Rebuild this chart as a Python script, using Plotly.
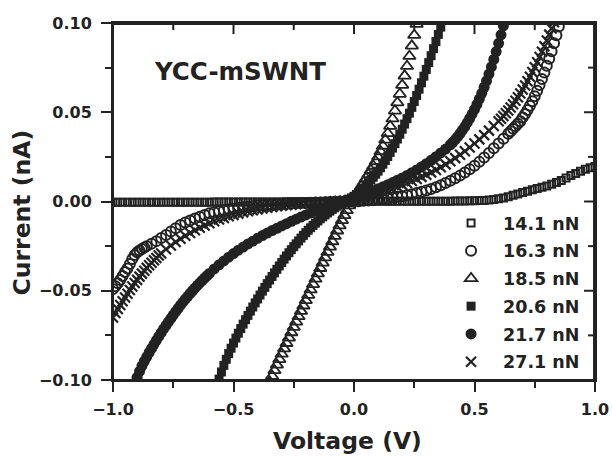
import plotly.graph_objects as go

# ---------------- data ----------------
series_names = ["14.1 nN", "16.3 nN", "18.5 nN", "20.6 nN", "21.7 nN", "27.1 nN"]

v_141 = [-1.00, -0.98, -0.96, -0.94, -0.92, -0.90, -0.88, -0.86, -0.84, -0.82, -0.80, -0.78, -0.76, -0.74, -0.72,
         -0.70, -0.68, -0.66, -0.64, -0.62, -0.60, -0.58, -0.56, -0.54, -0.52, -0.50, -0.48, -0.46, -0.44, -0.42,
         -0.40, -0.38, -0.36, -0.34, -0.32, -0.30, -0.28, -0.26, -0.24, -0.22, -0.20, -0.18, -0.16, -0.14, -0.12,
         -0.10, -0.08, -0.06, -0.04, -0.02, 0.00, 0.02, 0.04, 0.06, 0.08, 0.10, 0.12, 0.14, 0.16, 0.18, 0.20,
         0.22, 0.24, 0.26, 0.28, 0.30, 0.32, 0.34, 0.36, 0.38, 0.40, 0.42, 0.44, 0.46, 0.48, 0.50, 0.52, 0.54,
         0.56, 0.58, 0.60, 0.62, 0.64, 0.66, 0.68, 0.70, 0.72, 0.74, 0.76, 0.78, 0.80, 0.82, 0.84, 0.86, 0.88,
         0.90, 0.92, 0.94, 0.96, 0.98, 1.00]
i_141 = [-0.0004, -0.0004, -0.0004, -0.0004, -0.0004, -0.0004, -0.0004, -0.0004, -0.0004, -0.0004, -0.0004,
         -0.0004, -0.0004, -0.0004, -0.0004, -0.0004, -0.0004, -0.0004, -0.0004, -0.0004, -0.0004,
         -0.0003, -0.0003, -0.0003, -0.0003, -0.0003, -0.0003, -0.0003, -0.0003, -0.0003, -0.0003, -0.0003,
         -0.0003, -0.0003, -0.0003, -0.0003,
         -0.0002, -0.0002, -0.0002, -0.0002, -0.0002, -0.0002, -0.0002, -0.0002, -0.0002, -0.0002,
         -0.0001, -0.0001, -0.0001, -0.0001, 0.0000,
         0.0000, 0.0000, 0.0000, 0.0001, 0.0001, 0.0001, 0.0001, 0.0001, 0.0001, 0.0001, 0.0001, 0.0001,
         0.0001, 0.0001, 0.0002, 0.0002, 0.0002, 0.0002, 0.0002, 0.0002, 0.0003, 0.0003, 0.0003, 0.0004,
         0.0004, 0.0005, 0.0006, 0.0008, 0.0011, 0.0015, 0.0020, 0.0027, 0.0035, 0.0042, 0.0050, 0.0058,
         0.0066, 0.0073, 0.0080, 0.0087, 0.0096, 0.0106, 0.0118, 0.0132, 0.0145, 0.0157, 0.0169, 0.0180,
         0.0189, 0.0196]

v_163 = [-1.00, -0.99, -0.98, -0.97, -0.96, -0.95, -0.94, -0.93, -0.92, -0.91, -0.90, -0.89, -0.88, -0.87, -0.86,
         -0.84, -0.82, -0.80, -0.78, -0.76, -0.74, -0.72, -0.70, -0.68, -0.66, -0.64, -0.62, -0.60, -0.58, -0.56,
         -0.54, -0.52, -0.50, -0.48, -0.46, -0.44, -0.42, -0.40, -0.38, -0.36, -0.34, -0.32, -0.30, -0.28, -0.26,
         -0.24, -0.22, -0.20, -0.18, -0.16, -0.14, -0.12, -0.10, -0.08, -0.06, -0.04, -0.02, 0.00, 0.02, 0.04,
         0.06, 0.08, 0.10, 0.12, 0.14, 0.16, 0.18, 0.20, 0.22, 0.24, 0.26, 0.28, 0.30, 0.32, 0.34, 0.36, 0.38,
         0.40, 0.42, 0.44, 0.46, 0.48, 0.50, 0.52, 0.54, 0.56, 0.58, 0.60, 0.62, 0.64, 0.65, 0.66, 0.67, 0.68,
         0.69, 0.70, 0.71, 0.72, 0.73, 0.74, 0.75, 0.76, 0.77, 0.78, 0.79, 0.80, 0.81, 0.82, 0.83, 0.84, 0.85,
         0.86]
i_163 = [-0.0490, -0.0475, -0.0458, -0.0440, -0.0418, -0.0395, -0.0375, -0.0350, -0.0322, -0.0300, -0.0285,
         -0.0275, -0.0266, -0.0258, -0.0250, -0.0236, -0.0222, -0.0205, -0.0188, -0.0168, -0.0150, -0.0132,
         -0.0118, -0.0106, -0.0095, -0.0085, -0.0075, -0.0066, -0.0060, -0.0054, -0.0049, -0.0044, -0.0040,
         -0.0036, -0.0032, -0.0029, -0.0026, -0.0023, -0.0021, -0.0019, -0.0017, -0.0015, -0.0013, -0.0012,
         -0.0011, -0.0010, -0.0009, -0.0008, -0.0007, -0.0006, -0.0005, -0.0004, -0.0003, -0.0002, -0.0001,
         -0.0001, 0.0000, 0.0000, 0.0002, 0.0004, 0.0006, 0.0009, 0.0012, 0.0015, 0.0018, 0.0022, 0.0026,
         0.0030, 0.0035, 0.0041, 0.0047, 0.0054, 0.0062, 0.0070, 0.0080, 0.0091, 0.0103, 0.0116, 0.0130,
         0.0145, 0.0162, 0.0180, 0.0200, 0.0222, 0.0246, 0.0272, 0.0298, 0.0325, 0.0352, 0.0380, 0.0394,
         0.0408, 0.0422, 0.0436, 0.0450, 0.0470, 0.0490, 0.0512, 0.0536, 0.0562, 0.0590, 0.0620, 0.0652,
         0.0686, 0.0722, 0.0760, 0.0800, 0.0842, 0.0886, 0.0932, 0.0980, 0.1030]

v_185 = [-0.35, -0.34, -0.33, -0.32, -0.31, -0.30, -0.29, -0.28, -0.27, -0.26, -0.25, -0.24, -0.23, -0.22, -0.21,
         -0.20, -0.19, -0.18, -0.17, -0.16, -0.15, -0.14, -0.13, -0.12, -0.11, -0.10, -0.09, -0.08, -0.07, -0.06,
         -0.05, -0.04, -0.03, -0.02, -0.01, 0.00, 0.01, 0.02, 0.03, 0.04, 0.05, 0.06, 0.07, 0.08, 0.09, 0.10,
         0.11, 0.12, 0.13, 0.14, 0.15, 0.16, 0.17, 0.18, 0.19, 0.20, 0.21, 0.22, 0.23, 0.24, 0.25, 0.26, 0.27]
i_185 = [-0.1010, -0.0978, -0.0946, -0.0915, -0.0884, -0.0854, -0.0824, -0.0794, -0.0764, -0.0734, -0.0704,
         -0.0674, -0.0644, -0.0614, -0.0584, -0.0554, -0.0524, -0.0494, -0.0464, -0.0434, -0.0404, -0.0374,
         -0.0344, -0.0314, -0.0284, -0.0254, -0.0224, -0.0194, -0.0164, -0.0135, -0.0106, -0.0078, -0.0050,
         -0.0023, -0.0001, 0.0020, 0.0042, 0.0064, 0.0086, 0.0108, 0.0130, 0.0152, 0.0175, 0.0199, 0.0224,
         0.0251, 0.0280, 0.0311, 0.0345, 0.0382, 0.0422, 0.0464, 0.0508, 0.0554, 0.0602, 0.0652, 0.0704,
         0.0758, 0.0814, 0.0872, 0.0932, 0.0994, 0.1058]

v_206 = [-0.57, -0.56, -0.55, -0.54, -0.53, -0.52, -0.51, -0.50, -0.49, -0.48, -0.47, -0.46, -0.45, -0.44, -0.43,
         -0.42, -0.41, -0.40, -0.39, -0.38, -0.37, -0.36, -0.35, -0.34, -0.33, -0.32, -0.31, -0.30, -0.29, -0.28,
         -0.27, -0.26, -0.25, -0.24, -0.23, -0.22, -0.21, -0.20, -0.19, -0.18, -0.17, -0.16, -0.15, -0.14, -0.13,
         -0.12, -0.11, -0.10, -0.09, -0.08, -0.07, -0.06, -0.05, -0.04, -0.03, -0.02, -0.01, 0.00, 0.01, 0.02,
         0.03, 0.04, 0.05, 0.06, 0.07, 0.08, 0.09, 0.10, 0.11, 0.12, 0.13, 0.14, 0.15, 0.16, 0.17, 0.18, 0.19,
         0.20, 0.21, 0.22, 0.23, 0.24, 0.25, 0.26, 0.27, 0.28, 0.29, 0.30, 0.31, 0.32, 0.33, 0.34, 0.35, 0.36,
         0.37, 0.38]
i_206 = [-0.1040, -0.0995, -0.0955, -0.0918, -0.0884, -0.0852, -0.0822, -0.0793, -0.0765, -0.0738, -0.0712,
         -0.0687, -0.0662, -0.0638, -0.0614, -0.0591, -0.0568, -0.0546, -0.0524, -0.0502, -0.0481, -0.0460,
         -0.0440, -0.0420, -0.0400, -0.0380, -0.0361, -0.0342, -0.0323, -0.0305, -0.0287, -0.0270, -0.0253,
         -0.0237, -0.0221, -0.0205, -0.0190, -0.0175, -0.0161, -0.0147, -0.0134, -0.0121, -0.0109, -0.0097,
         -0.0086, -0.0075, -0.0064, -0.0054, -0.0044, -0.0035, -0.0026, -0.0018, -0.0010, -0.0003, 0.0004,
         0.0012, 0.0020, 0.0029, 0.0039, 0.0050, 0.0062, 0.0075, 0.0089, 0.0104, 0.0120, 0.0136, 0.0153,
         0.0170, 0.0189, 0.0209, 0.0230, 0.0252, 0.0275, 0.0299, 0.0324, 0.0350, 0.0377, 0.0405, 0.0434,
         0.0464, 0.0495, 0.0527, 0.0560, 0.0594, 0.0629, 0.0665, 0.0702, 0.0740, 0.0778, 0.0817, 0.0856,
         0.0896, 0.0936, 0.0977, 0.1018, 0.1060]

v_217 = [-0.91, -0.90, -0.89, -0.88, -0.87, -0.86, -0.85, -0.84, -0.83, -0.82, -0.81, -0.80, -0.79, -0.78, -0.77,
         -0.76, -0.75, -0.74, -0.73, -0.72, -0.71, -0.70, -0.69, -0.68, -0.67, -0.66, -0.65, -0.64, -0.63, -0.62,
         -0.61, -0.60, -0.58, -0.56, -0.54, -0.52, -0.50, -0.48, -0.46, -0.44, -0.42, -0.40, -0.38, -0.36, -0.34,
         -0.32, -0.30, -0.28, -0.26, -0.24, -0.22, -0.20, -0.18, -0.16, -0.14, -0.12, -0.10, -0.08, -0.06, -0.04,
         -0.02, 0.00, 0.02, 0.04, 0.06, 0.08, 0.10, 0.12, 0.14, 0.16, 0.18, 0.20, 0.22, 0.24, 0.26, 0.28, 0.30,
         0.32, 0.34, 0.36, 0.38, 0.40, 0.41, 0.42, 0.43, 0.44, 0.45, 0.46, 0.47, 0.48, 0.49, 0.50, 0.51, 0.52,
         0.53, 0.54, 0.55, 0.56, 0.57, 0.58, 0.59, 0.60, 0.61, 0.62, 0.63]
i_217 = [-0.1025, -0.0985, -0.0952, -0.0922, -0.0895, -0.0870, -0.0846, -0.0823, -0.0800, -0.0778, -0.0756,
         -0.0735, -0.0714, -0.0694, -0.0674, -0.0655, -0.0636, -0.0617, -0.0599, -0.0581, -0.0564, -0.0547,
         -0.0531, -0.0515, -0.0500, -0.0485, -0.0470, -0.0456, -0.0442, -0.0429, -0.0416, -0.0403, -0.0378,
         -0.0355, -0.0333, -0.0312, -0.0292, -0.0273, -0.0255, -0.0238, -0.0222, -0.0206, -0.0191, -0.0177,
         -0.0163, -0.0150, -0.0137, -0.0124, -0.0111, -0.0099, -0.0087, -0.0075, -0.0064, -0.0053, -0.0043,
         -0.0033, -0.0024, -0.0015, -0.0006, 0.0003, 0.0012, 0.0021, 0.0030, 0.0040, 0.0050, 0.0060, 0.0071,
         0.0082, 0.0094, 0.0106, 0.0119, 0.0132, 0.0146, 0.0161, 0.0177, 0.0194, 0.0212, 0.0231, 0.0251,
         0.0272, 0.0294, 0.0318, 0.0332, 0.0347, 0.0363, 0.0381, 0.0400, 0.0420, 0.0442, 0.0465, 0.0490,
         0.0516, 0.0544, 0.0574, 0.0606, 0.0640, 0.0676, 0.0714, 0.0754, 0.0796, 0.0840, 0.0886, 0.0934,
         0.0984, 0.1036]

v_271 = [-1.00, -0.99, -0.98, -0.97, -0.96, -0.95, -0.94, -0.93, -0.92, -0.91, -0.90, -0.89, -0.88, -0.87, -0.86,
         -0.85, -0.84, -0.83, -0.82, -0.81, -0.80, -0.78, -0.76, -0.74, -0.72, -0.70, -0.68, -0.66, -0.64, -0.62,
         -0.60, -0.58, -0.56, -0.54, -0.52, -0.50, -0.48, -0.46, -0.44, -0.42, -0.40, -0.38, -0.36, -0.34, -0.32,
         -0.30, -0.28, -0.26, -0.24, -0.22, -0.20, -0.18, -0.16, -0.14, -0.12, -0.10, -0.08, -0.06, -0.04, -0.02,
         0.00, 0.02, 0.04, 0.06, 0.08, 0.10, 0.12, 0.14, 0.16, 0.18, 0.20, 0.22, 0.24, 0.26, 0.28, 0.30, 0.32,
         0.34, 0.36, 0.38, 0.40, 0.42, 0.44, 0.46, 0.48, 0.50, 0.52, 0.54, 0.56, 0.58, 0.60, 0.61, 0.62, 0.63,
         0.64, 0.65, 0.66, 0.67, 0.68, 0.69, 0.70, 0.71, 0.72, 0.73, 0.74, 0.75, 0.76, 0.77, 0.78, 0.79, 0.80,
         0.81, 0.82, 0.83, 0.84]
i_271 = [-0.0650, -0.0625, -0.0602, -0.0580, -0.0559, -0.0538, -0.0517, -0.0496, -0.0476, -0.0457, -0.0439,
         -0.0421, -0.0404, -0.0388, -0.0372, -0.0357, -0.0343, -0.0329, -0.0316, -0.0303, -0.0291, -0.0268,
         -0.0247, -0.0227, -0.0209, -0.0192, -0.0176, -0.0161, -0.0147, -0.0134, -0.0122, -0.0111, -0.0101,
         -0.0092, -0.0083, -0.0075, -0.0068, -0.0061, -0.0055, -0.0049, -0.0044, -0.0039, -0.0035, -0.0031,
         -0.0027, -0.0024, -0.0021, -0.0018, -0.0015, -0.0013, -0.0011, -0.0009, -0.0007, -0.0005, -0.0003,
         -0.0001, 0.0001, 0.0003, 0.0005, 0.0008, 0.0011, 0.0015, 0.0020, 0.0026, 0.0033, 0.0041, 0.0050,
         0.0060, 0.0071, 0.0082, 0.0093, 0.0104, 0.0115, 0.0126, 0.0138, 0.0150, 0.0163, 0.0177, 0.0192,
         0.0208, 0.0225, 0.0243, 0.0262, 0.0282, 0.0303, 0.0325, 0.0348, 0.0372, 0.0397, 0.0423, 0.0450,
         0.0464, 0.0479, 0.0494, 0.0510, 0.0527, 0.0545, 0.0564, 0.0584, 0.0605, 0.0627, 0.0650, 0.0674,
         0.0699, 0.0725, 0.0752, 0.0780, 0.0809, 0.0839, 0.0870, 0.0902, 0.0935, 0.0969, 0.1004, 0.1040]

x_tick_vals = [-1.0, -0.5, 0.0, 0.5, 1.0]
x_minor_vals = [-0.75, -0.25, 0.25, 0.75]
y_tick_vals = [-0.10, -0.05, 0.00, 0.05, 0.10]
y_minor_vals = [-0.075, -0.025, 0.025, 0.075]
sample_label = "YCC-mSWNT"
x_title = "Voltage (V)"
y_title = "Current (nA)"

# ---------------- styling ----------------
INK = "#222222"
FONT = "DejaVu Sans"

series = [
    (v_141, i_141, dict(symbol="square-open", size=7, line=dict(width=2, color=INK), color=INK)),
    (v_163, i_163, dict(symbol="circle-open", size=10, line=dict(width=2, color=INK), color=INK)),
    (v_185, i_185, dict(symbol="triangle-up-open", size=11, line=dict(width=1.8, color=INK), color=INK)),
    (v_206, i_206, dict(symbol="square", size=9, color=INK, line=dict(width=0))),
    (v_217, i_217, dict(symbol="circle", size=11, color=INK, line=dict(width=0))),
    (v_271, i_271, dict(symbol="x-thin-open", size=10, line=dict(width=2.2, color=INK), color=INK)),
]

fig = go.Figure()
for k, (vx, iy, mk) in enumerate(series):
    fig.add_trace(go.Scatter(x=vx, y=iy, mode="markers", marker=mk, name=series_names[k],
                             legendgroup=f"g{k}"))

tickfont = dict(family=FONT, size=16, color=INK, weight="bold")

# frame drawn slightly inside the plot-area edges, plus inward ticks on the top and right
shapes = [dict(type="rect", xref="paper", yref="paper", x0=0.0, x1=0.998, y0=0.0, y1=0.997,
               line=dict(color=INK, width=2), fillcolor="rgba(0,0,0,0)", layer="above")]
TOP_MAJOR = 10 / 357.0
TOP_MINOR = 6 / 357.0
RIGHT_MAJOR = 10 / 482.0
RIGHT_MINOR = 6 / 482.0
for vals, length in ((x_tick_vals, TOP_MAJOR), (x_minor_vals, TOP_MINOR)):
    for v in vals:
        shapes.append(dict(type="line", xref="x", yref="paper", x0=v, x1=v, y0=0.997, y1=0.997 - length,
                           line=dict(color=INK, width=2), layer="above"))
for vals, length in ((y_tick_vals, RIGHT_MAJOR), (y_minor_vals, RIGHT_MINOR)):
    for v in vals:
        shapes.append(dict(type="line", xref="paper", yref="y", y0=v, y1=v, x0=0.998, x1=0.998 - length,
                           line=dict(color=INK, width=2), layer="above"))

fig.update_layout(
    template="none",
    width=612, height=456,
    margin=dict(l=113, r=17, t=23, b=76, autoexpand=False),
    paper_bgcolor="white", plot_bgcolor="white",
    xaxis=dict(range=[-1, 1], tickvals=x_tick_vals, tickformat=".1f", ticks="outside", ticklen=10,
               tickwidth=2, tickcolor=INK, showgrid=False, zeroline=False, automargin=False,
               showline=True, linewidth=2, linecolor=INK, mirror=True,
               minor=dict(tickvals=x_minor_vals, ticks="outside", ticklen=6, tickwidth=2, tickcolor=INK),
               tickfont=tickfont, ticklabelstandoff=4),
    yaxis=dict(range=[-0.1, 0.1], tickvals=y_tick_vals, tickformat=".2f", ticks="outside", ticklen=10,
               tickwidth=2, tickcolor=INK, showgrid=False, zeroline=False, automargin=False,
               showline=True, linewidth=2, linecolor=INK, mirror=True,
               minor=dict(tickvals=y_minor_vals, ticks="outside", ticklen=6, tickwidth=2, tickcolor=INK),
               tickfont=tickfont, ticklabelstandoff=6),
    shapes=shapes,
    legend=dict(x=0.6765, xanchor="left", y=0.245, yanchor="middle", bgcolor="rgba(0,0,0,0)",
                borderwidth=0,
                font=dict(family=FONT, size=17.5, color=INK, weight="bold"),
                itemwidth=54, traceorder="grouped", tracegroupgap=2, itemclick=False),
    showlegend=True,
    annotations=[
        dict(text=sample_label, x=0.081, y=0.8655, xref="paper", yref="paper", xanchor="left",
             yanchor="middle", showarrow=False, font=dict(family=FONT, size=24.5, color=INK, weight="bold")),
        dict(text=x_title, x=0.4865, y=-0.172, xref="paper", yref="paper", xanchor="center",
             yanchor="middle", showarrow=False, font=dict(family=FONT, size=23.5, color=INK, weight="bold")),
        dict(text=y_title, x=-0.189, y=0.469, xref="paper", yref="paper", xanchor="center",
             yanchor="middle", textangle=-90, showarrow=False,
             font=dict(family=FONT, size=23.5, color=INK, weight="bold")),
    ],
)

fig.write_html("out.html")
